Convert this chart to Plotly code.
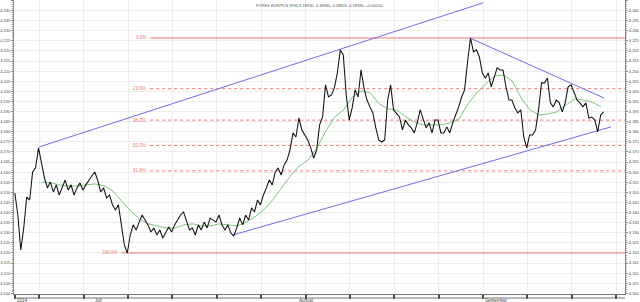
import pandas as pd
import plotly.graph_objects as go

TITLE = "FOREX EUR/PLN (F,H) 4.18930, 4.18980, 4.18820, 4.18980, +0.00050"

# price samples every 8 trading hours
PRICE_START = "2014-06-18 06:00"
PRICE_STEP_H = 8
PRICE = [
    4.1497, 4.1388, 4.1215, 4.1324, 4.1477, 4.1462, 4.1601, 4.1621, 4.1720, 4.1636,
    4.1571, 4.1522, 4.1551, 4.1502, 4.1537, 4.1487, 4.1522, 4.1561, 4.1512, 4.1537,
    4.1487, 4.1522, 4.1547, 4.1512, 4.1537, 4.1561, 4.1581, 4.1601, 4.1561, 4.1502,
    4.1522, 4.1472, 4.1487, 4.1438, 4.1413, 4.1438, 4.1339, 4.1240, 4.1200, 4.1289,
    4.1339, 4.1314, 4.1353, 4.1388, 4.1363, 4.1339, 4.1304, 4.1324, 4.1289, 4.1314,
    4.1274, 4.1304, 4.1329, 4.1304, 4.1339, 4.1363, 4.1388, 4.1403, 4.1353, 4.1314,
    4.1324, 4.1289, 4.1339, 4.1314, 4.1353, 4.1324, 4.1373, 4.1363, 4.1353, 4.1388,
    4.1339, 4.1314, 4.1339, 4.1299, 4.1284, 4.1324, 4.1373, 4.1339, 4.1388, 4.1363,
    4.1423, 4.1403, 4.1462, 4.1438, 4.1487, 4.1522, 4.1561, 4.1537, 4.1601, 4.1621,
    4.1586, 4.1636, 4.1660, 4.1710, 4.1794, 4.1774, 4.1868, 4.1809, 4.1784, 4.1759,
    4.1720, 4.1670, 4.1710, 4.1834, 4.1873, 4.2032, 4.1972, 4.1982, 4.2017, 4.2091,
    4.2205, 4.2180, 4.1982, 4.1858, 4.1918, 4.2007, 4.1972, 4.2106, 4.2017, 4.1957,
    4.1923, 4.1893, 4.1819, 4.1759, 4.1749, 4.1759, 4.1957, 4.2032, 4.1908, 4.1893,
    4.1873, 4.1809, 4.1858, 4.1834, 4.1819, 4.1794, 4.1844, 4.1908, 4.1858, 4.1819,
    4.1844, 4.1794, 4.1858, 4.1858, 4.1794, 4.1794, 4.1824, 4.1794, 4.1844, 4.1883,
    4.1923, 4.1972, 4.2007, 4.2145, 4.2264, 4.2195, 4.2205, 4.2170, 4.2091, 4.2066,
    4.2091, 4.2022, 4.2071, 4.2116, 4.2106, 4.2106, 4.2022, 4.1957, 4.1957, 4.1918,
    4.1893, 4.1908, 4.1774, 4.1720, 4.1784, 4.1784, 4.1809, 4.1908, 4.2042, 4.2042,
    4.2066, 4.1943, 4.1923, 4.1957, 4.1943, 4.1898, 4.1943, 4.2022, 4.2032, 4.1997,
    4.1957, 4.1943, 4.1923, 4.1943, 4.1868, 4.1873, 4.1858, 4.1799, 4.1883, 4.1898,
]

# moving average, one value per trading day
MA_START = "2014-06-23 07:00"
MA = [
    4.1551, 4.1547, 4.1537, 4.1532, 4.1532, 4.1537, 4.1542, 4.1532, 4.1507, 4.1457,
    4.1408, 4.1368, 4.1344, 4.1334, 4.1324, 4.1324, 4.1339, 4.1344, 4.1334, 4.1334,
    4.1344, 4.1339, 4.1334, 4.1353, 4.1378, 4.1413, 4.1462, 4.1522, 4.1581, 4.1631,
    4.1660, 4.1720, 4.1804, 4.1873, 4.1908, 4.1972, 4.2002, 4.1992, 4.1938, 4.1913,
    4.1908, 4.1873, 4.1848, 4.1834, 4.1834, 4.1834, 4.1844, 4.1863, 4.1938, 4.1992,
    4.2037, 4.2076, 4.2081, 4.2051, 4.1967, 4.1908, 4.1883, 4.1888, 4.1898, 4.1928,
    4.1962, 4.1957, 4.1947, 4.1923,
]

FIB_HIGH = 4.2264
FIB_LOW = 4.1200
FIB_RATIOS = [0.0, 0.236, 0.382, 0.5, 0.618, 1.0]
FIB_LABELS = ["0.0%", "23.6%", "38.2%", "50.0%", "61.8%", "100.0%"]
FIB_START = "2014-07-09 12:00"
FIB100_START = "2014-07-04 06:00"

TRENDLINES = [
    ("2014-06-23 00:00", 4.1725, "2014-09-01 00:00", 4.2438),
    ("2014-07-22 19:00", 4.1289, "2014-09-19 10:00", 4.1824),
    ("2014-08-28 12:00", 4.2264, "2014-09-18 15:00", 4.1967),
]

X_RANGE = ["2014-06-18 03:40", "2014-09-22 23:45"]
Y_RANGE = [4.0997, 4.2452]
WEEK_TICKS = ["2014-06-18 06:00", "2014-06-23", "2014-06-30", "2014-07-07", "2014-07-14",
              "2014-07-21", "2014-07-28", "2014-08-04", "2014-08-11", "2014-08-18",
              "2014-08-25", "2014-09-01", "2014-09-08", "2014-09-15", "2014-09-22"]
DATE_LABELS = [("2014-06-18 06:00", "2014"), ("2014-07-01", "Juli"),
               ("2014-08-01", "August"), ("2014-09-01", "September")]


def trading_times(start, n, step):
    t = pd.Timestamp(start)
    out = []
    for _ in range(n):
        out.append(t)
        t = t + step
        while t.weekday() >= 5:
            t = t + pd.Timedelta(days=1)
    return out


px = trading_times(PRICE_START, len(PRICE), pd.Timedelta(hours=PRICE_STEP_H))
mx = trading_times(MA_START, len(MA), pd.Timedelta(days=1))

RED = "#ec7474"
BLUE = "#6e6ee0"
GREEN = "#6cbf6c"
GRID = "#ececec"
FONT = "Liberation Sans, Arial, sans-serif"

fig = go.Figure()

shapes = []
annotations = []
for r, lab in zip(FIB_RATIOS, FIB_LABELS):
    lvl = FIB_HIGH - r * (FIB_HIGH - FIB_LOW)
    x0 = FIB100_START if r == 1.0 else FIB_START
    solid = r in (0.0, 1.0)
    shapes.append(dict(type="line", xref="x", yref="y", x0=x0, x1=X_RANGE[1], y0=lvl, y1=lvl,
                       line=dict(color=RED, width=1, dash="solid" if solid else "dot"),
                       layer="between"))
    annotations.append(dict(x=x0, y=lvl, xref="x", yref="y", text=lab, showarrow=False,
                            xanchor="right", yanchor="middle", xshift=-2,
                            font=dict(size=4.5, color=RED, family=FONT)))

for x0, y0, x1, y1 in TRENDLINES:
    fig.add_trace(go.Scatter(x=[x0, x1], y=[y0, y1], mode="lines",
                             line=dict(color=BLUE, width=1), hoverinfo="skip", showlegend=False))

fig.add_trace(go.Scatter(x=mx, y=MA, mode="lines", line=dict(color=GREEN, width=0.9),
                         hoverinfo="skip", showlegend=False))
fig.add_trace(go.Scatter(x=px, y=PRICE, mode="lines", line=dict(color="#111111", width=1.05),
                         showlegend=False))
fig.add_trace(go.Scatter(x=[px[0]], y=[PRICE[0]], mode="markers", marker=dict(opacity=0),
                         yaxis="y2", hoverinfo="skip", showlegend=False))

shapes.append(dict(type="line", xref="paper", yref="paper", x0=0, x1=1, y0=-4 / 294, y1=-4 / 294,
                   line=dict(color="#777777", width=1)))

for d, t in DATE_LABELS:
    annotations.append(dict(x=d, y=-6.5 / 294, xref="x", yref="paper", text=t, showarrow=False,
                            xanchor="left", yanchor="middle", xshift=0,
                            font=dict(size=4.5, color="#444444", family=FONT)))

annotations.append(dict(x=0.5, y=1, xref="paper", yref="paper", text=TITLE, showarrow=False,
                        xanchor="center", yanchor="top", yshift=-1,
                        font=dict(size=4, color="#555555", family=FONT)))

yax = dict(range=Y_RANGE, dtick=0.005, tick0=4.0, tickformat=".3f", showgrid=True,
           gridcolor=GRID, gridwidth=1, zeroline=False, showline=True, linecolor="#888888",
           linewidth=1, ticks="outside", ticklen=2, tickcolor="#888888",
           tickfont=dict(size=4, color="#444444", family=FONT),
           minor=dict(dtick=0.001, ticks="outside", ticklen=1, tickcolor="#aaaaaa", showgrid=False))

fig.update_layout(
    width=640, height=302,
    margin=dict(l=12, r=14, t=0, b=8),
    paper_bgcolor="white", plot_bgcolor="white",
    xaxis=dict(type="date", range=X_RANGE, rangebreaks=[dict(bounds=["sat", "mon"])],
               tickvals=WEEK_TICKS, showticklabels=False, ticks="outside", ticklen=4,
               tickwidth=2, tickcolor="#444444", showgrid=True, gridcolor=GRID,
               showline=True, linecolor="#777777", linewidth=1, zeroline=False),
    yaxis=yax,
    yaxis2=dict(yax, overlaying="y", side="right", matches="y", showgrid=False),
    shapes=shapes,
    annotations=annotations,
    showlegend=False,
)

fig.write_html("out.html")
